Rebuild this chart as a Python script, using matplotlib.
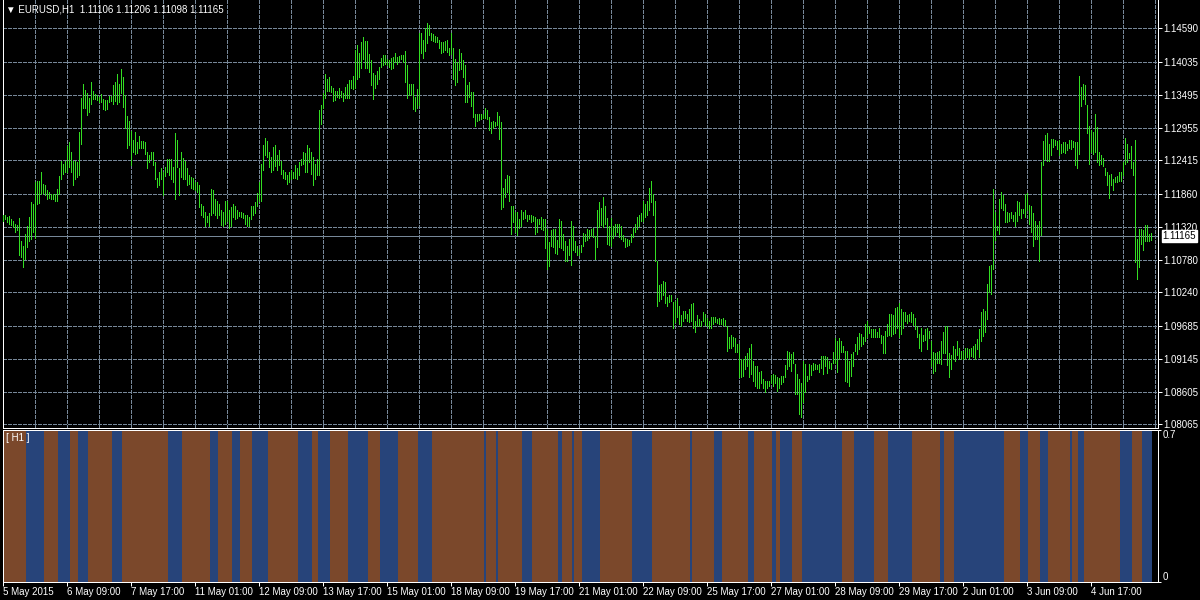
import numpy as np
import matplotlib
matplotlib.use("Agg")
import matplotlib.pyplot as plt
from matplotlib.transforms import blended_transform_factory, offset_copy

plt.rcParams['font.family'] = ['Liberation Sans', 'DejaVu Sans']

# EURUSD H1 bars as (high, low), oldest first
hl_bars = [
    (1.1151, 1.1141), (1.1151, 1.1144), (1.1148, 1.1140), (1.1149, 1.1137), (1.1144, 1.1135), (1.1141, 1.1131), (1.1137, 1.1123), (1.1135, 1.1126), (1.1146, 1.1086), (1.1108, 1.1082),
    (1.1101, 1.1065), (1.1120, 1.1079), (1.1133, 1.1098), (1.1148, 1.1108), (1.1173, 1.1112), (1.1169, 1.1124), (1.1206, 1.1113), (1.1208, 1.1169), (1.1207, 1.1171), (1.1223, 1.1186),
    (1.1203, 1.1188), (1.1200, 1.1184), (1.1192, 1.1178), (1.1189, 1.1179), (1.1186, 1.1177), (1.1186, 1.1177), (1.1186, 1.1175), (1.1195, 1.1174), (1.1215, 1.1186), (1.1241, 1.1210),
    (1.1236, 1.1219), (1.1241, 1.1222), (1.1265, 1.1222), (1.1272, 1.1230), (1.1256, 1.1223), (1.1241, 1.1200), (1.1240, 1.1210), (1.1239, 1.1214), (1.1288, 1.1218), (1.1344, 1.1269),
    (1.1368, 1.1328), (1.1357, 1.1328), (1.1352, 1.1316), (1.1344, 1.1321), (1.1371, 1.1335), (1.1355, 1.1343), (1.1350, 1.1342), (1.1349, 1.1341), (1.1346, 1.1338), (1.1350, 1.1337),
    (1.1343, 1.1326), (1.1341, 1.1324), (1.1341, 1.1326), (1.1347, 1.1337), (1.1347, 1.1339), (1.1366, 1.1335), (1.1371, 1.1339), (1.1383, 1.1335), (1.1368, 1.1337), (1.1392, 1.1352),
    (1.1379, 1.1330), (1.1349, 1.1294), (1.1314, 1.1261), (1.1306, 1.1266), (1.1289, 1.1234), (1.1275, 1.1255), (1.1288, 1.1252), (1.1272, 1.1254), (1.1281, 1.1261), (1.1273, 1.1262),
    (1.1273, 1.1261), (1.1272, 1.1252), (1.1255, 1.1228), (1.1251, 1.1238), (1.1256, 1.1243), (1.1255, 1.1234), (1.1239, 1.1210), (1.1213, 1.1197), (1.1223, 1.1200), (1.1228, 1.1211),
    (1.1223, 1.1184), (1.1230, 1.1216), (1.1243, 1.1222), (1.1244, 1.1217), (1.1244, 1.1210), (1.1230, 1.1206), (1.1286, 1.1178), (1.1275, 1.1230), (1.1229, 1.1184), (1.1256, 1.1214),
    (1.1245, 1.1211), (1.1241, 1.1210), (1.1228, 1.1200), (1.1217, 1.1203), (1.1214, 1.1196), (1.1212, 1.1195), (1.1206, 1.1192), (1.1205, 1.1190), (1.1201, 1.1165), (1.1169, 1.1151),
    (1.1167, 1.1148), (1.1157, 1.1133), (1.1150, 1.1140), (1.1154, 1.1133), (1.1195, 1.1152), (1.1192, 1.1154), (1.1177, 1.1151), (1.1175, 1.1146), (1.1170, 1.1151), (1.1160, 1.1135),
    (1.1157, 1.1133), (1.1175, 1.1137), (1.1175, 1.1142), (1.1159, 1.1130), (1.1165, 1.1134), (1.1169, 1.1148), (1.1167, 1.1145), (1.1159, 1.1146), (1.1156, 1.1149), (1.1157, 1.1148),
    (1.1154, 1.1146), (1.1151, 1.1137), (1.1151, 1.1134), (1.1148, 1.1134), (1.1166, 1.1145), (1.1167, 1.1151), (1.1173, 1.1154), (1.1188, 1.1167), (1.1205, 1.1175), (1.1236, 1.1174),
    (1.1267, 1.1225), (1.1278, 1.1250), (1.1273, 1.1247), (1.1256, 1.1230), (1.1247, 1.1222), (1.1264, 1.1225), (1.1266, 1.1232), (1.1250, 1.1225), (1.1258, 1.1234), (1.1240, 1.1219),
    (1.1225, 1.1212), (1.1222, 1.1210), (1.1217, 1.1203), (1.1222, 1.1206),
    # 13 May onwards
    (1.1225, 1.1211), (1.1222, 1.1212), (1.1233, 1.1212), (1.1229, 1.1210), (1.1239, 1.1217), (1.1244, 1.1234), (1.1255, 1.1236), (1.1254, 1.1222), (1.1266, 1.1222), (1.1261, 1.1239),
    (1.1256, 1.1219), (1.1247, 1.1200), (1.1236, 1.1211), (1.1243, 1.1218), (1.1324, 1.1217), (1.1333, 1.1302), (1.1352, 1.1328), (1.1383, 1.1344), (1.1375, 1.1355), (1.1379, 1.1355),
    (1.1364, 1.1354), (1.1360, 1.1339), (1.1355, 1.1341), (1.1355, 1.1346), (1.1360, 1.1344), (1.1355, 1.1346), (1.1353, 1.1339), (1.1363, 1.1344), (1.1368, 1.1344), (1.1374, 1.1344),
    (1.1374, 1.1360), (1.1381, 1.1359), (1.1423, 1.1360), (1.1432, 1.1375), (1.1418, 1.1379), (1.1436, 1.1394), (1.1444, 1.1409), (1.1438, 1.1393), (1.1438, 1.1393), (1.1416, 1.1387),
    (1.1407, 1.1365), (1.1385, 1.1342), (1.1382, 1.1361), (1.1388, 1.1368), (1.1396, 1.1375), (1.1410, 1.1396), (1.1415, 1.1399), (1.1415, 1.1401), (1.1409, 1.1398), (1.1407, 1.1396),
    (1.1410, 1.1392), (1.1412, 1.1394), (1.1418, 1.1403), (1.1412, 1.1401), (1.1414, 1.1404), (1.1415, 1.1409), (1.1415, 1.1404), (1.1421, 1.1371), (1.1399, 1.1344), (1.1368, 1.1349),
    (1.1368, 1.1349), (1.1368, 1.1326), (1.1346, 1.1322), (1.1359, 1.1328), (1.1452, 1.1332), (1.1452, 1.1419), (1.1440, 1.1410), (1.1459, 1.1421), (1.1467, 1.1434), (1.1464, 1.1448),
    (1.1451, 1.1440), (1.1449, 1.1438), (1.1447, 1.1437), (1.1444, 1.1437), (1.1440, 1.1426), (1.1437, 1.1419), (1.1437, 1.1420), (1.1438, 1.1423), (1.1440, 1.1420), (1.1426, 1.1415),
    (1.1452, 1.1416), (1.1426, 1.1376), (1.1409, 1.1366), (1.1404, 1.1371), (1.1425, 1.1390), (1.1418, 1.1392), (1.1407, 1.1379), (1.1398, 1.1337), (1.1366, 1.1337), (1.1371, 1.1346),
    (1.1354, 1.1331), (1.1354, 1.1313), (1.1317, 1.1298), (1.1317, 1.1306), (1.1317, 1.1308), (1.1317, 1.1309), (1.1317, 1.1311), (1.1327, 1.1311), (1.1324, 1.1310), (1.1313, 1.1291),
    (1.1305, 1.1286), (1.1306, 1.1294), (1.1305, 1.1298), (1.1321, 1.1299), (1.1315, 1.1277), (1.1305, 1.1162), (1.1196, 1.1165), (1.1210, 1.1181), (1.1217, 1.1190), (1.1216, 1.1175),
    (1.1167, 1.1120), (1.1166, 1.1140), (1.1156, 1.1123), (1.1156, 1.1119), (1.1145, 1.1130), (1.1159, 1.1133), (1.1156, 1.1144), (1.1159, 1.1146), (1.1152, 1.1142), (1.1151, 1.1144),
    (1.1151, 1.1140), (1.1150, 1.1141), (1.1148, 1.1120), (1.1144, 1.1123), (1.1145, 1.1137), (1.1148, 1.1129), (1.1145, 1.1126), (1.1145, 1.1097), (1.1129, 1.1063), (1.1107, 1.1068),
    (1.1126, 1.1101), (1.1128, 1.1098), (1.1128, 1.1089), (1.1111, 1.1087), (1.1144, 1.1098), (1.1142, 1.1097), (1.1120, 1.1093), (1.1108, 1.1076), (1.1101, 1.1075), (1.1112, 1.1085),
    (1.1141, 1.1069), (1.1134, 1.1093), (1.1109, 1.1090), (1.1101, 1.1085), (1.1096, 1.1086),
    # 21 May onwards
    (1.1102, 1.1090), (1.1122, 1.1101), (1.1120, 1.1108), (1.1129, 1.1111), (1.1126, 1.1113), (1.1129, 1.1117), (1.1130, 1.1115), (1.1117, 1.1079), (1.1159, 1.1098), (1.1173, 1.1131),
    (1.1163, 1.1135), (1.1181, 1.1131), (1.1166, 1.1137), (1.1146, 1.1104), (1.1133, 1.1102), (1.1146, 1.1101), (1.1134, 1.1113), (1.1137, 1.1118), (1.1137, 1.1123), (1.1137, 1.1115),
    (1.1133, 1.1112), (1.1118, 1.1108), (1.1113, 1.1098), (1.1112, 1.1101), (1.1111, 1.1102), (1.1120, 1.1107), (1.1130, 1.1115), (1.1137, 1.1123), (1.1148, 1.1129), (1.1152, 1.1134),
    (1.1154, 1.1142), (1.1174, 1.1141), (1.1170, 1.1148), (1.1175, 1.1152), (1.1196, 1.1159), (1.1208, 1.1173), (1.1186, 1.1151), (1.1175, 1.1076), (1.1076, 1.1002), (1.1036, 1.1009),
    (1.1038, 1.1013), (1.1043, 1.1020), (1.1041, 1.1007), (1.1016, 1.1002), (1.1019, 1.1008), (1.1019, 1.1010), (1.1008, 1.0966), (1.1009, 1.0975), (1.1014, 1.0984), (1.1001, 1.0972),
    (1.0987, 1.0969), (1.0994, 1.0977), (1.0994, 1.0981), (1.0988, 1.0977), (1.0997, 1.0975), (1.1005, 1.0977), (1.1007, 1.0966), (1.0977, 1.0958), (1.0986, 1.0969), (1.0980, 1.0968),
    (1.0977, 1.0969), (1.0991, 1.0976), (1.0988, 1.0970), (1.0981, 1.0968), (1.0977, 1.0966), (1.0983, 1.0966), (1.0984, 1.0972), (1.0983, 1.0975), (1.0980, 1.0973), (1.0981, 1.0972),
    (1.0980, 1.0972), (1.0981, 1.0970), (1.0979, 1.0968), (1.0968, 1.0928), (1.0950, 1.0932), (1.0954, 1.0933), (1.0950, 1.0936), (1.0948, 1.0925), (1.0939, 1.0925), (1.0939, 1.0884),
    (1.0914, 1.0884), (1.0914, 1.0886), (1.0919, 1.0897), (1.0924, 1.0903), (1.0933, 1.0884), (1.0939, 1.0889), (1.0911, 1.0878), (1.0903, 1.0870), (1.0903, 1.0867), (1.0892, 1.0867),
    (1.0895, 1.0875), (1.0881, 1.0867), (1.0878, 1.0860), (1.0878, 1.0867), (1.0878, 1.0870), (1.0888, 1.0875), (1.0889, 1.0870), (1.0888, 1.0875), (1.0884, 1.0862), (1.0882, 1.0867),
    (1.0886, 1.0873), (1.0886, 1.0877), (1.0904, 1.0884), (1.0928, 1.0897), (1.0925, 1.0903), (1.0922, 1.0895), (1.0925, 1.0908), (1.0906, 1.0856), (1.0889, 1.0856), (1.0881, 1.0823),
    (1.0875, 1.0818), (1.0910, 1.0843), (1.0906, 1.0860), (1.0886, 1.0878), (1.0906, 1.0881), (1.0904, 1.0888), (1.0907, 1.0896), (1.0906, 1.0897), (1.0904, 1.0897), (1.0906, 1.0892),
    (1.0919, 1.0900), (1.0919, 1.0889), (1.0919, 1.0903), (1.0918, 1.0891), (1.0911, 1.0900), (1.0908, 1.0897), (1.0926, 1.0908), (1.0948, 1.0908), (1.0944, 1.0892), (1.0948, 1.0914),
    (1.0943, 1.0925), (1.0936, 1.0925), (1.0928, 1.0878), (1.0928, 1.0877), (1.0910, 1.0870), (1.0922, 1.0886), (1.0925, 1.0903), (1.0939, 1.0928), (1.0950, 1.0922), (1.0957, 1.0930),
    (1.0955, 1.0935), (1.0950, 1.0939), (1.0972, 1.0944), (1.0977, 1.0950), (1.0969, 1.0957),
    # 29 May onwards
    (1.0963, 1.0950), (1.0963, 1.0950), (1.0963, 1.0950), (1.0959, 1.0950), (1.0965, 1.0950), (1.0954, 1.0941), (1.0952, 1.0924), (1.0961, 1.0924), (1.0972, 1.0952), (1.0988, 1.0954),
    (1.0988, 1.0952), (1.0986, 1.0955), (1.0998, 1.0957), (1.0999, 1.0965), (1.1007, 1.0951), (1.0997, 1.0955), (1.0992, 1.0966), (1.0992, 1.0976), (1.0987, 1.0973), (1.0988, 1.0977),
    (1.0991, 1.0975), (1.0988, 1.0970), (1.0981, 1.0963), (1.0968, 1.0950), (1.0955, 1.0933), (1.0965, 1.0928), (1.0954, 1.0944), (1.0963, 1.0946), (1.0966, 1.0930), (1.0961, 1.0948),
    (1.0944, 1.0903), (1.0925, 1.0891), (1.0924, 1.0895), (1.0925, 1.0908), (1.0928, 1.0908), (1.0944, 1.0906), (1.0959, 1.0924), (1.0968, 1.0924), (1.0969, 1.0904), (1.0924, 1.0885),
    (1.0921, 1.0897), (1.0936, 1.0914), (1.0930, 1.0911), (1.0943, 1.0921), (1.0933, 1.0914), (1.0928, 1.0914), (1.0928, 1.0914), (1.0932, 1.0914), (1.0933, 1.0918), (1.0930, 1.0914),
    (1.0933, 1.0919), (1.0936, 1.0917), (1.0939, 1.0914), (1.0947, 1.0930), (1.0963, 1.0917), (1.0992, 1.0944), (1.0997, 1.0952), (1.0994, 1.0958), (1.1038, 1.0980), (1.1068, 1.1024),
    (1.1069, 1.1021), (1.1195, 1.1063), (1.1156, 1.1111), (1.1134, 1.1126), (1.1178, 1.1120), (1.1189, 1.1163), (1.1185, 1.1159), (1.1170, 1.1140), (1.1157, 1.1140), (1.1154, 1.1142),
    (1.1156, 1.1146), (1.1152, 1.1142), (1.1156, 1.1134), (1.1175, 1.1141), (1.1173, 1.1151), (1.1162, 1.1146), (1.1162, 1.1154), (1.1186, 1.1148), (1.1188, 1.1159), (1.1168, 1.1137),
    (1.1167, 1.1123), (1.1154, 1.1101), (1.1141, 1.1112), (1.1135, 1.1112), (1.1141, 1.1076), (1.1239, 1.1118), (1.1273, 1.1233), (1.1283, 1.1244), (1.1286, 1.1241), (1.1269, 1.1241),
    (1.1277, 1.1250), (1.1276, 1.1264), (1.1275, 1.1266), (1.1273, 1.1260), (1.1275, 1.1250), (1.1269, 1.1254), (1.1272, 1.1255), (1.1271, 1.1254), (1.1269, 1.1258), (1.1275, 1.1261),
    (1.1275, 1.1260), (1.1273, 1.1264), (1.1272, 1.1233), (1.1271, 1.1229), (1.1381, 1.1252), (1.1363, 1.1331), (1.1368, 1.1343), (1.1366, 1.1335), (1.1332, 1.1286), (1.1298, 1.1236),
    (1.1291, 1.1255), (1.1288, 1.1252), (1.1317, 1.1256), (1.1297, 1.1239), (1.1255, 1.1234), (1.1250, 1.1236), (1.1245, 1.1232), (1.1228, 1.1218), (1.1222, 1.1200), (1.1218, 1.1179),
    (1.1219, 1.1200), (1.1211, 1.1192), (1.1214, 1.1206), (1.1216, 1.1206), (1.1223, 1.1208), (1.1222, 1.1208), (1.1239, 1.1218), (1.1278, 1.1236), (1.1269, 1.1238), (1.1254, 1.1245),
    (1.1265, 1.1228), (1.1239, 1.1217), (1.1275, 1.1074), (1.1112, 1.1046), (1.1129, 1.1065), (1.1129, 1.1104), (1.1126, 1.1093), (1.1135, 1.1109), (1.1135, 1.1108), (1.1120, 1.1108),
    (1.1121, 1.1110),
]

# indicator state per bar as run lengths: 0 = brown, 1 = blue
signal_runs = [
    (0, 12), (1, 9), (0, 7), (1, 6), (0, 4), (1, 5), (0, 12), (1, 5), (0, 23), (1, 7),
    (0, 14), (1, 4), (0, 7), (1, 4), (0, 6), (1, 8), (0, 15), (1, 7), (0, 3), (1, 6),
    (0, 9), (1, 10), (0, 6), (1, 9), (0, 10), (1, 7), (0, 26), (1, 1), (0, 5), (1, 1),
    (0, 12), (1, 5), (0, 13), (1, 2), (0, 5), (1, 1), (0, 4), (1, 9), (0, 16), (1, 10),
    (0, 19), (1, 1), (0, 11), (1, 4), (0, 13), (1, 3), (0, 9), (1, 2), (0, 2), (1, 6),
    (0, 5), (1, 20), (0, 6), (1, 10), (0, 7), (1, 12), (0, 14), (1, 2), (0, 5), (1, 25),
    (0, 8), (1, 4), (0, 6), (1, 4), (0, 11), (1, 1), (0, 3), (1, 3), (0, 18), (1, 6),
    (0, 5), (1, 5),
]
signal_level = 0.7

price_levels = [1.14590, 1.14035, 1.13495, 1.12955, 1.12415, 1.11860, 1.11320,
                1.10780, 1.10240, 1.09685, 1.09145, 1.08605, 1.08065]
bid = 1.11165
header = "\u25bc EURUSD,H1  1.11106 1.11206 1.11098 1.11165"

time_ticks = [0, 32, 64, 96, 128, 160, 192, 224, 256, 288, 320, 352, 384, 416, 448, 480, 512, 544]
time_labels = ["5 May 2015", "6 May 09:00", "7 May 17:00", "11 May 01:00", "12 May 09:00",
               "13 May 17:00", "15 May 01:00", "18 May 09:00", "19 May 17:00", "21 May 01:00",
               "22 May 09:00", "25 May 17:00", "27 May 01:00", "28 May 09:00", "29 May 17:00",
               "2 Jun 01:00", "3 Jun 09:00", "4 Jun 17:00"]

BAR = '#33dd22'
GRID = '#778899'
BROWN = '#7b482b'
BLUE = '#27447a'
PX = 0.72  # one pixel in points at 100 dpi

high = np.array([b[0] for b in hl_bars])
low = np.array([b[1] for b in hl_bars])
x = np.arange(len(hl_bars))
state = np.concatenate([[s] * n for s, n in signal_runs])
sig_colors = [BLUE if s else BROWN for s in state]

W, H = 1200.0, 600.0


def box(x0, y0, x1, y1):
    # pixel rectangle -> figure fraction
    return [x0 / W, 1 - y1 / H, (x1 - x0) / W, (y1 - y0) / H]


fig = plt.figure(figsize=(12, 6), dpi=100, facecolor='black')
ax = fig.add_axes(box(2.5, -1, 1157.5, 427.5))
ax2 = fig.add_axes(box(2.5, 429.5, 1157.5, 581.5))

for a in (ax, ax2):
    a.set_facecolor('black')
    a.set_xlim(-0.42, 577.08)
    for side in a.spines:
        a.spines[side].set_color('white')
        a.spines[side].set_linewidth(PX)

# price panel: map label pixels so the grid labels sit where MT4 put them
s = (price_levels[0] - price_levels[-1]) / (424.3 - 28.3)
ax.set_ylim(price_levels[-1] - (427.5 - 424.3) * s, price_levels[0] + 29.3 * s)

dash = (0, (3, 2))
for p in price_levels:
    ax.axhline(p, color=GRID, lw=PX, ls=dash, zorder=1, antialiased=False)
for i in range(16, 577, 16):
    ax.axvline(i, color=GRID, lw=PX, ls=dash, zorder=1, antialiased=False)

ax.axhline(bid, color=GRID, lw=PX, zorder=2, antialiased=False)
ax.vlines(x, low, high, colors=BAR, lw=PX, zorder=3, antialiased=False)

ax.set_xticks([])
ax.yaxis.tick_right()
ax.set_yticks(price_levels)
ax.set_yticklabels(['%.5f' % p for p in price_levels])
ax.tick_params(axis='y', colors='white', labelcolor='white', length=3, width=PX,
               pad=1.5, labelsize=7)

trans = blended_transform_factory(ax.transAxes, ax.transData)
ax.text(1.0, bid, '1.11165', transform=offset_copy(trans, fig, x=5, y=0, units='dots'),
        color='black', fontsize=7, va='center', ha='left', zorder=5, clip_on=False,
        bbox=dict(boxstyle='square,pad=0.08', fc='white', ec='white'))

fig.text(6 / W, 1 - 10 / H, header, color='white', fontsize=7, va='center', ha='left')

# indicator panel
ax2.bar(x, signal_level, width=1.0, color=sig_colors, linewidth=0, antialiased=False,
        align='center', zorder=2)
ax2.set_ylim(0, signal_level)
ax2.set_xticks(time_ticks)
ax2.set_xticklabels(time_labels)
for lbl in ax2.get_xticklabels():
    lbl.set_ha('left')
ax2.tick_params(axis='x', colors='white', labelcolor='white', length=3, width=PX,
                pad=1, labelsize=7)
ax2.yaxis.tick_right()
ax2.set_yticks([0, signal_level])
ax2.set_yticklabels(['0', '0.7'])
ylbls = ax2.get_yticklabels()
ylbls[0].set_va('bottom')
ylbls[1].set_va('top')
ax2.tick_params(axis='y', colors='white', labelcolor='white', length=2, width=PX,
                pad=1.5, labelsize=7)

fig.text(6 / W, 1 - 438 / H, '[ H1 ]', color='white', fontsize=7, va='center', ha='left')

fig.savefig('out.png', dpi=100, facecolor='black')
